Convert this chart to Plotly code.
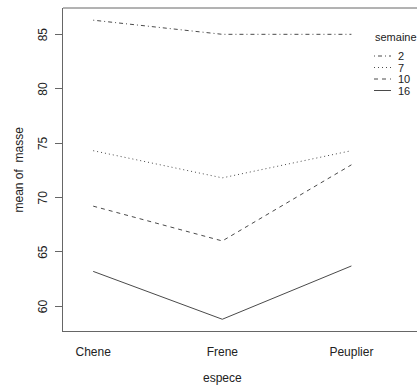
import plotly.graph_objects as go

especes = ["Chene", "Frene", "Peuplier"]
semaines = ["2", "7", "10", "16"]
masse_2 = [86.3, 85.0, 85.0]
masse_7 = [74.3, 71.8, 74.3]
masse_10 = [69.2, 66.0, 73.0]
masse_16 = [63.2, 58.8, 63.7]
series = [masse_2, masse_7, masse_10, masse_16]
y_ticks = [60, 65, 70, 75, 80, 85]

dashes = ["1px,3px,4px,3px", "1px,3px", "4px,4px", "solid"]
line_col = "#4a4a4a"
frame_col = "#666666"
font = "Liberation Sans, Arial, sans-serif"

fig = go.Figure()
xpos = [1, 2, 3]
for name, vals, d in zip(semaines, series, dashes):
    fig.add_trace(go.Scatter(x=xpos, y=vals, mode="lines", name=name,
                             line=dict(color=line_col, width=1, dash=d),
                             showlegend=False))

W, H = 417, 386
ml, mr, mt, mb = 63, 0, 8, 55
yr = [57.72, 87.42]

fig.update_layout(
    width=W, height=H,
    margin=dict(l=ml, r=mr, t=mt, b=mb),
    paper_bgcolor="white", plot_bgcolor="white",
    font=dict(family=font, size=12, color="#222222"),
    xaxis=dict(range=[0.766, 3.508], tickvals=xpos, ticktext=especes,
               showgrid=False, zeroline=False, showline=True, linecolor=frame_col,
               linewidth=1, ticks="", tickfont=dict(size=12), ticklabelstandoff=10),
    yaxis=dict(range=yr, tickvals=y_ticks, showticklabels=False,
               showgrid=False, zeroline=False, showline=True, linecolor=frame_col,
               linewidth=1, ticks="outside", ticklen=7, tickcolor=frame_col),
)
# top frame line
fig.add_shape(type="line", xref="paper", yref="paper", x0=0, x1=1, y0=1, y1=1,
              line=dict(color=frame_col, width=1))

pw = W - ml - mr
ph = H - mt - mb

# y tick labels (rotated, as in R)
for t in y_ticks:
    fig.add_annotation(text=str(t), xref="paper", yref="y", x=-20 / pw, y=t,
                       textangle=-90, showarrow=False, xanchor="center",
                       yanchor="middle", font=dict(size=12), borderpad=0)

# axis titles
fig.add_annotation(text="espece", xref="x", yref="paper", x=2, y=-47 / ph,
                   showarrow=False, yanchor="middle", font=dict(size=12))
fig.add_annotation(text="mean of\u00a0 masse", xref="paper", yref="y",
                   x=-45 / pw, y=(yr[0] + yr[1]) / 2, textangle=-90,
                   showarrow=False, xanchor="center", font=dict(size=12))

# legend
def py(pix):
    return 1 - (pix - mt) / ph
def px(pix):
    return (pix - ml) / pw

fig.add_annotation(text="semaine", xref="paper", yref="paper", x=px(374), y=py(37),
                   xanchor="left", yanchor="middle", showarrow=False, font=dict(size=11),
                   borderpad=0)
for i, (name, d) in enumerate(zip(semaines, dashes)):
    yy = 56 + i * 11.5
    fig.add_shape(type="line", xref="paper", yref="paper", x0=px(374), x1=px(391),
                  y0=py(yy), y1=py(yy), line=dict(color=line_col, width=1, dash=d))
    fig.add_annotation(text=name, xref="paper", yref="paper", x=px(397), y=py(yy),
                       xanchor="left", yanchor="middle", showarrow=False,
                       font=dict(size=11), borderpad=0)

fig.write_html("out.html")
